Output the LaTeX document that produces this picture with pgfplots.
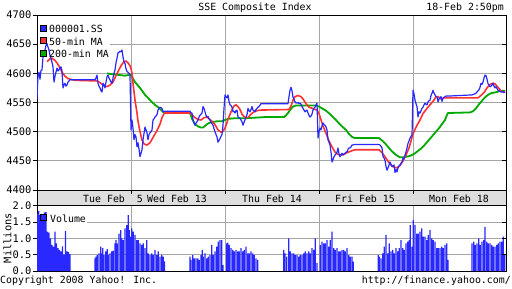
\documentclass[border=0pt]{standalone}
\usepackage{fontspec}
\setmainfont{DejaVu Sans Mono}
\usepackage{pgfplots}
\pgfplotsset{compat=1.18}
\definecolor{cblue}{RGB}{40,40,255}
\definecolor{cred}{RGB}{255,50,50}
\definecolor{cgreen}{RGB}{0,170,0}
\definecolor{cband}{RGB}{222,222,222}
\definecolor{cgrid}{RGB}{165,165,165}
\newcommand\mf{\fontsize{9.9bp}{11bp}\selectfont}
\newcommand\tf{\fontsize{10.4bp}{12bp}\selectfont}
\pgfplotsset{yahoo/.style={scale only axis, width=469bp, xmin=37, xmax=506,
  anchor=south west, axis line style={line width=1bp},
  grid style={cgrid, line width=1bp},
  xtick={131.7,225.7,319.3,413.3}, xticklabels={}, xmajorgrids, ymajorgrids,
  xtick style={draw=none}, ytick pos=left, tick align=outside,
  major tick length=4bp, ytick style={black,line width=1bp},
  yticklabel style={font=\tf, inner sep=1.5bp}}}
\begin{document}
\begin{tikzpicture}[x=1bp,y=1bp]
\useasboundingbox (0,0) rectangle (512,288);
\fill[white] (0,0) rectangle (512,288);
\fill[cband] (37,83) rectangle (506,98);
\begin{axis}[yahoo, at={(37bp,98bp)}, height=175bp, ymin=4400, ymax=4700,
  ytick={4400,4450,4500,4550,4600,4650,4700},
  yticklabels={4400,4450,4500,4550,4600,4650,4700}]
\fill[white] (axis cs:37.6,4623) rectangle (axis cs:110,4688);
\addplot[cgreen, line width=1.8bp, mark=none, line join=round] table {
107 4600
110 4599
115 4598
120 4597
125 4596
128 4597
130 4598
131 4597
132 4594
135 4585
138 4579
140 4575
143 4568
145 4563
148 4558
150 4554
153 4549
155 4546
158 4542
160 4539
163 4534
165 4532
190 4532
192 4522
195 4513
198 4509
201 4507
203 4507
205 4510
208 4514
211 4516
214 4517
218 4518
222 4518
225 4520
228 4522
235 4523
245 4523
255 4524
265 4525
284 4525
286 4528
288 4532
290 4537
293 4543
296 4545
316 4545
319 4543
322 4540
326 4536
330 4530
333 4525
336 4520
339 4514
342 4509
346 4503
349 4496
352 4491
355 4489
379 4489
382 4485
385 4480
388 4474
391 4468
394 4463
397 4459
400 4456
403 4456
406 4457
409 4458
412 4460
415 4463
418 4467
421 4471
424 4476
427 4482
430 4488
433 4494
436 4500
439 4506
442 4513
445 4520
447 4529
448 4532
470 4533
473 4535
476 4540
479 4547
482 4553
485 4559
488 4563
491 4566
494 4567
497 4568
500 4570
503 4570
505 4570
};
\addplot[cred, line width=1.6bp, mark=none, line join=round] table {
47 4620
50 4625
52 4626
55 4622
57 4618
60 4609
62 4602
65 4595
68 4591
70 4590
75 4588
97 4587
100 4584
103 4580
107 4577
110 4580
113 4585
116 4596
118 4603
121 4613
124 4620
126 4621
128 4618
130 4613
131 4608
132 4600
133 4583
135 4554
137 4532
138 4518
140 4500
142 4486
144 4479
147 4477
150 4481
153 4490
157 4502
160 4513
162 4524
164 4531
165 4532
190 4532
192 4529
195 4524
198 4521
201 4520
204 4524
207 4525
210 4521
213 4516
215 4512
218 4503
221 4499
223 4501
225 4506
228 4521
231 4534
234 4544
236 4546
238 4543
240 4538
242 4530
245 4524
248 4524
251 4530
254 4534
257 4536
260 4537
289 4538
291 4544
293 4554
295 4560
298 4562
301 4560
303 4556
306 4548
309 4542
312 4540
317 4537
319 4531
321 4520
323 4510
326 4497
329 4484
332 4474
335 4465
338 4461
341 4460
344 4461
347 4464
350 4466
353 4468
355 4469
379 4469
382 4464
385 4457
388 4449
391 4443
394 4439
397 4438
400 4442
403 4450
406 4460
409 4472
411 4484
413 4496
415 4504
417 4511
420 4520
423 4531
427 4540
430 4546
433 4552
436 4560
438 4560
441 4556
444 4558
447 4558
478 4558
481 4562
484 4567
487 4575
490 4581
493 4583
495 4582
498 4576
501 4570
503 4568
505 4568
};
\addplot[cblue, line width=1.2bp, mark=none, line join=round] table {
37 4556
38 4597
39 4602
40 4590
41 4605
42 4606
43 4628
44 4636
45 4640
46 4648
47 4651
48 4645
49 4640
50 4631
51 4625
52 4619
53 4611
54 4585
55 4595
56 4602
57 4609
58 4604
59 4606
60 4610
61 4611
62 4604
63 4575
64 4580
65 4583
66 4578
67 4580
68 4585
69 4587
70 4589
95 4589
96 4592
97 4597
98 4583
99 4578
100 4575
101 4570
102 4568
103 4583
104 4580
105 4575
106 4585
107 4594
108 4597
109 4592
110 4589
111 4585
112 4583
113 4592
114 4600
115 4606
116 4618
117 4626
118 4635
119 4636
120 4638
121 4637
122 4640
123 4628
124 4620
125 4617
126 4608
127 4603
128 4602
129 4600
130 4597
131 4503
132 4520
133 4506
134 4486
135 4495
136 4491
137 4474
138 4481
139 4470
140 4457
141 4463
142 4469
143 4486
144 4497
145 4508
146 4503
147 4498
148 4486
149 4495
150 4498
151 4500
152 4503
153 4520
154 4522
155 4525
156 4527
157 4529
158 4537
159 4540
160 4542
161 4541
162 4540
163 4534
164 4535
190 4535
191 4532
192 4532
193 4520
194 4515
195 4511
196 4515
197 4517
198 4520
199 4525
200 4528
201 4530
202 4532
203 4543
204 4540
205 4534
206 4528
207 4525
208 4526
209 4522
210 4520
211 4516
212 4514
213 4511
214 4505
215 4500
216 4495
217 4491
218 4482
219 4485
220 4488
221 4492
222 4495
223 4511
224 4540
225 4563
226 4560
227 4558
228 4563
229 4552
230 4546
231 4545
232 4542
233 4534
234 4535
235 4532
236 4536
237 4537
238 4525
239 4524
240 4523
241 4520
242 4517
243 4511
244 4516
245 4520
246 4525
247 4529
248 4540
249 4536
250 4534
251 4538
252 4543
253 4537
254 4536
255 4534
256 4538
257 4540
258 4542
259 4543
261 4548
288 4548
289 4560
290 4571
291 4576
292 4570
293 4559
294 4556
295 4551
296 4549
297 4549
298 4550
299 4548
300 4549
301 4547
302 4543
303 4540
304 4537
305 4534
306 4536
307 4537
308 4532
309 4528
310 4525
311 4527
312 4530
313 4537
314 4540
315 4542
316 4546
317 4549
318 4489
319 4500
320 4506
321 4503
322 4510
323 4515
324 4512
325 4511
326 4508
327 4503
328 4486
329 4482
330 4477
331 4465
332 4448
333 4452
334 4457
335 4460
336 4462
337 4465
338 4472
339 4462
340 4457
341 4460
342 4463
343 4460
344 4462
345 4463
346 4465
347 4465
348 4470
349 4472
350 4472
351 4474
352 4477
353 4477
354 4478
379 4478
380 4477
381 4475
382 4472
383 4457
384 4455
385 4451
386 4440
387 4434
388 4438
389 4443
390 4448
391 4444
392 4440
393 4441
394 4443
395 4430
396 4435
397 4431
398 4438
399 4441
400 4443
401 4446
402 4448
403 4455
404 4453
405 4460
406 4465
407 4472
408 4480
409 4484
410 4489
411 4492
412 4494
413 4571
414 4565
415 4554
416 4548
417 4543
418 4525
419 4534
420 4532
421 4536
422 4540
423 4542
424 4546
425 4549
426 4547
427 4546
428 4551
429 4553
430 4554
431 4562
432 4566
433 4571
434 4566
435 4563
436 4560
437 4559
438 4551
439 4556
440 4558
441 4560
442 4552
443 4557
444 4559
445 4560
446 4561
448 4561
472 4563
475 4565
476 4566
477 4568
478 4570
479 4572
480 4576
481 4583
482 4581
483 4585
484 4592
485 4597
486 4596
487 4590
488 4582
489 4580
490 4577
491 4578
492 4580
493 4583
494 4578
495 4575
496 4577
497 4574
498 4571
499 4570
500 4569
501 4568
502 4568
503 4569
504 4567
505 4568
};
\pgfplotsinvokeforeach{4450,4500,4550,4600,4650}{\draw[line width=1bp] (axis cs:506,#1) -- ([xshift=-4bp]axis cs:506,#1);}
\end{axis}
\begin{axis}[yahoo, at={(37bp,17bp)}, height=66bp, ymin=0, ymax=2.03,
  ytick={0,0.5,1,1.5,2}, yticklabels={0.0,0.5,1.0,1.5,2.0}]
\fill[white] (axis cs:37.6,1.44) rectangle (axis cs:87,1.82);
\addplot[ybar, bar width=1.35, fill=cblue, draw=none] table {
37.8 1.77
38.8 1.85
40 1.72
41.5 1.75
43 1.62
44.5 1.80
46 1.82
47.5 1.21
49 1.18
50.5 1.00
52 0.80
53.5 0.75
55 1.21
56.5 0.85
58 0.70
59.5 0.65
61 0.60
62.5 0.76
64 0.50
65.5 1.23
67 0.60
68.5 0.58
70 0.52
95 0.39
96 0.44
97.3 0.49
99 0.54
100.7 0.75
101.7 0.54
102.7 0.70
104 0.49
105.7 0.60
107.3 0.67
108.3 0.49
110 0.54
111.7 0.60
113.3 0.63
115 0.85
116 0.95
117.3 0.85
119 1.15
120.7 1.26
121.7 1.00
123.3 0.95
125 1.31
126.7 1.41
128.3 1.72
129.3 1.26
130.7 1.06
131.7 1.31
133.3 1.21
135 1.11
136.7 0.95
138.3 0.95
140 0.85
141.7 0.80
143.3 0.85
145 0.70
146.7 0.95
148.3 0.54
150 0.49
151.7 0.54
153.3 0.49
155 0.65
156.7 0.49
158.3 0.60
160 0.44
161.7 0.49
163.3 0.44
164.5 0.30
190 0.44
191 0.34
192.7 0.49
194.3 0.39
196 0.39
197.7 0.39
199.3 0.34
201 0.49
202.3 0.65
203.3 0.44
205 0.54
206.7 0.39
208.3 0.44
210 0.49
211.7 0.80
213.3 0.49
215 0.60
216.7 0.75
218.3 0.90
220 0.95
221.7 0.95
223 0.18
226.7 0.85
227.7 0.87
229.3 0.80
231 0.70
232.7 0.65
234.3 0.60
236 0.65
237.7 0.60
239.3 0.60
241 0.70
242.7 0.60
244.3 0.65
246 0.75
247.7 0.54
249.3 0.54
251 0.60
252.7 0.54
254.3 0.49
256 0.39
257.7 0.34
283.7 0.65
285 0.54
286.7 0.44
288.7 1.00
290.3 0.60
292 0.54
293.7 0.54
295.3 0.49
297 0.49
298.7 0.44
300.3 0.49
302 0.49
303.7 0.54
305.3 0.60
307 0.54
308.7 0.60
310.3 0.54
312 0.70
313.7 0.65
315.3 1.00
317 0.25
320.3 0.80
322 0.90
323.7 0.85
325.3 0.85
327 0.95
328.7 0.75
330.3 0.95
332 1.21
333.7 0.70
335.3 0.65
337 0.70
338.7 0.60
340.3 0.60
342 0.65
343.7 0.65
345.3 0.60
347 0.70
348.7 0.49
350.3 0.44
352 0.44
353.3 0.29
378.3 0.49
379.3 0.44
381 0.39
382.7 0.54
384.3 0.75
386 1.11
387.7 0.54
389.3 0.85
391 0.60
392.7 0.65
394.3 0.54
396 0.70
397.7 0.60
399.3 0.70
401 0.95
402.7 0.70
404.3 0.65
406 0.85
407.7 0.90
409.3 0.95
410.3 1.41
412 0.75
413.3 1.57
415 1.42
416.7 1.15
418.3 1.15
420 1.21
421.7 1.31
423.3 1.06
425 1.06
426.7 0.95
428.3 1.11
430 1.26
431.7 1.00
433.3 0.95
435 0.90
436.7 0.70
438.3 0.70
440 0.70
441.7 0.75
443.3 0.70
445 0.80
446.7 0.85
448 0.34
472 0.85
473.7 0.90
475.3 0.80
477 0.85
478.7 1.00
480.3 0.80
482 0.90
483.7 0.95
485 1.36
486.7 0.90
488.3 0.85
490 0.85
491.7 0.80
493.3 0.75
495 0.75
496.7 0.80
498.3 0.85
500 0.90
501.7 0.90
503.3 1.06
504.7 0.49
};
\pgfplotsinvokeforeach{0.5,1,1.5}{\draw[line width=1bp] (axis cs:506,#1) -- ([xshift=-4bp]axis cs:506,#1);}
\end{axis}
% band frame and ticks
\draw[line width=1bp] (37,83) rectangle (506,98);
\foreach \xx in {131.7,225.7,319.3,413.3} \draw[line width=1bp] (\xx,98) -- (\xx,94);
% band labels
\node[font=\mf, anchor=base west, inner sep=0] at (83,85.7) {Tue Feb\ \ 5};
\node[font=\mf, anchor=base, inner sep=0] at (177,85.7) {Wed Feb 13};
\node[font=\mf, anchor=base, inner sep=0] at (272,85.7) {Thu Feb 14};
\node[font=\mf, anchor=base, inner sep=0] at (365,85.7) {Fri Feb 15};
\node[font=\mf, anchor=base, inner sep=0] at (459,85.7) {Mon Feb 18};
% titles
\node[font=\mf, anchor=base, inner sep=0] at (255,277.7) {SSE Composite Index};
\node[font=\mf, anchor=base east, inner sep=0] at (504,277.7) {18-Feb 2:50pm};
\node[font=\mf, anchor=base west, inner sep=0] at (0,4.7) {Copyright 2008 Yahoo! Inc.};
\node[font=\mf, anchor=base east, inner sep=0] at (511,4.7) {http://finance.yahoo.com/};
\node[font=\tf, rotate=90, inner sep=0] at (7.5,50) {Millions};
% legend
\draw[fill=cblue, line width=0.8bp] (40,257) rectangle (46,263);
\draw[fill=cred, line width=0.8bp] (40,244.7) rectangle (46,250.3);
\draw[fill=cgreen, line width=0.8bp] (40,232) rectangle (46,238);
\node[font=\mf, anchor=base west, inner sep=0] at (49,255.7) {000001.SS};
\node[font=\mf, anchor=base west, inner sep=0] at (49,243) {50-min MA};
\node[font=\mf, anchor=base west, inner sep=0] at (49,230.3) {200-min MA};
\draw[fill=cblue, line width=0.8bp] (40,67.3) rectangle (46,73.7);
\node[font=\mf, anchor=base west, inner sep=0] at (50,65.7) {Volume};
\end{tikzpicture}
\end{document}
